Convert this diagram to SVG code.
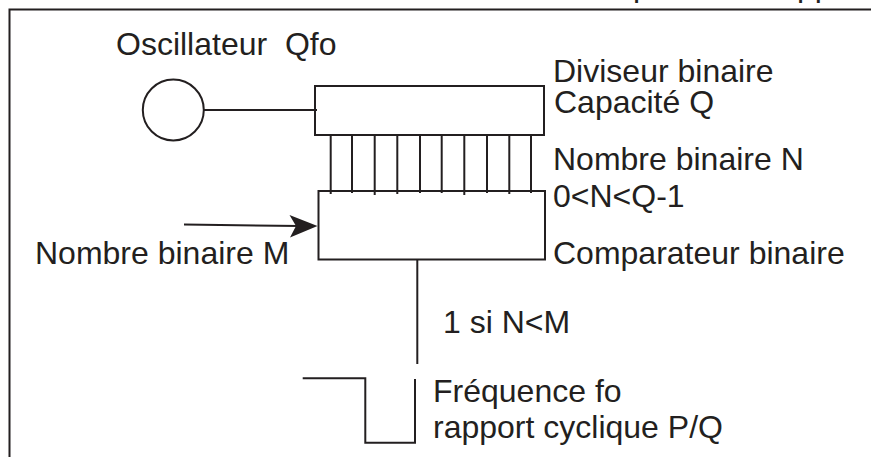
<svg xmlns="http://www.w3.org/2000/svg" width="871" height="457" viewBox="0 0 871 457">
<style>
.t{font-family:"Liberation Sans",Arial,sans-serif;font-size:32px;fill:#231f20;white-space:pre}
.s{fill:none;stroke:#231f20;stroke-width:2}
</style>
<rect width="871" height="457" fill="#fff"/>
<g id="frame">
<path class="s" d="M9.5,457 V9.5 H871" stroke-width="2.6"/>
<text class="t" x="633" y="-4">p</text>
<text class="t" x="797" y="-4">pp</text>
</g>
<g id="oscillateur">
<circle class="s" cx="173.3" cy="110" r="30.5"/>
<text class="t" x="116" y="55">Oscillateur  Qfo</text>
</g>
<g id="diviseur">
<rect class="s" x="315" y="86" width="229" height="49"/>
<text class="t" x="553" y="82">Diviseur binaire</text>
<text class="t" x="554" y="113">Capacité Q</text>
</g>
<g id="comparateur">
<rect class="s" x="318.5" y="191" width="226.5" height="68.5"/>
<text class="t" x="553" y="264">Comparateur binaire</text>
</g>
<g id="labels">
<text class="t" x="553" y="170">Nombre binaire N</text>
<text class="t" x="553" y="207">0&lt;N&lt;Q-1</text>
<text class="t" x="35" y="264">Nombre binaire M</text>
<text class="t" x="443" y="333">1 si N&lt;M</text>
<text class="t" x="433" y="402">Fréquence fo</text>
<text class="t" x="433" y="438">rapport cyclique P/Q</text>
</g>
<g id="connectors">
<line class="s" x1="204" y1="110" x2="317" y2="110"/>
<g class="s">
<line x1="330.7" y1="135" x2="330.7" y2="194"/>
<line x1="352" y1="135" x2="352" y2="193"/>
<line x1="374.7" y1="135" x2="374.7" y2="195"/>
<line x1="397.3" y1="135" x2="397.3" y2="194"/>
<line x1="420" y1="135" x2="420" y2="193"/>
<line x1="441.7" y1="135" x2="441.7" y2="193"/>
<line x1="464.3" y1="135" x2="464.3" y2="195"/>
<line x1="487" y1="135" x2="487" y2="193"/>
<line x1="509.3" y1="135" x2="509.3" y2="194"/>
<line x1="531" y1="135" x2="531" y2="193"/>
</g>
<line class="s" x1="184" y1="224.5" x2="300" y2="226"/>
<polygon points="317.5,226 289.5,215 296,226 290,237.5" fill="#231f20"/>
<line class="s" x1="417.3" y1="259" x2="417.3" y2="364"/>
<path class="s" d="M302.7,378.3 H365.3 V442.7 H415 V379"/>
</g>
</svg>
